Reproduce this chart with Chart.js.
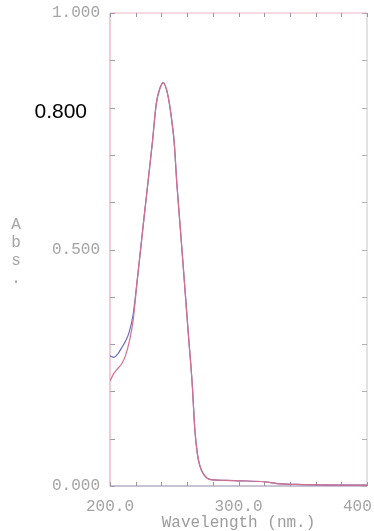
<!DOCTYPE html>
<html>
<head>
    <title>Abs spectrum</title>
    <style>
        body { margin: 0; background: #fff; }
        canvas { display: block; }
    </style>
</head>
<body>
    <canvas id="spectrum" width="374" height="531"></canvas>

    <script src="https://cdn.jsdelivr.net/npm/chart.js@4.4.1/dist/chart.umd.min.js"></script>
    <script>
        // values
        const wavelengths = [200, 203, 206, 209, 212, 215, 218, 221, 224, 227, 230, 233, 236, 239, 241.5,
                             244, 246, 248, 250, 252, 255, 258, 261, 264, 266, 268, 270, 273, 276, 280,
                             290, 300, 320, 330, 350, 380, 400];
        const absUpper = [0.275, 0.272, 0.279, 0.292, 0.306, 0.326, 0.362, 0.430, 0.505, 0.580, 0.653, 0.727, 0.808, 0.842, 0.853,
                          0.838, 0.812, 0.774, 0.725, 0.640, 0.535, 0.428, 0.320, 0.215, 0.120, 0.068, 0.042, 0.024, 0.016, 0.013,
                          0.012, 0.011, 0.009, 0.005, 0.003, 0.002, 0.002];
        const absLower = [0.222, 0.238, 0.248, 0.258, 0.275, 0.305, 0.350, 0.430, 0.505, 0.580, 0.653, 0.727, 0.808, 0.842, 0.853,
                          0.838, 0.812, 0.774, 0.725, 0.640, 0.535, 0.428, 0.320, 0.215, 0.120, 0.068, 0.042, 0.024, 0.016, 0.013,
                          0.012, 0.011, 0.009, 0.005, 0.003, 0.002, 0.002];
        const xLabelled = [200, 300, 400];
        const yLabelled = [0, 0.5, 1.0];
        const yMarked = 0.8;   // written over the scan by hand, in black

        const mono = "'Liberation Mono', 'DejaVu Sans Mono', monospace";
        const grey = '#a4a4a4';

        function toPoints(ys) {
            return wavelengths.map((x, i) => ({ x: x, y: ys[i] }));
        }

        // frame with inward ticks, different colour on each side like the scan
        const frame = {
            id: 'frame',
            beforeDatasetsDraw(chart) {
                const ctx = chart.ctx;
                const a = chart.chartArea;
                const xs = chart.scales.x, ys = chart.scales.y;
                ctx.save();
                ctx.lineWidth = 1;

                function seg(x1, y1, x2, y2, col) {
                    ctx.strokeStyle = col;
                    ctx.beginPath();
                    ctx.moveTo(x1, y1);
                    ctx.lineTo(x2, y2);
                    ctx.stroke();
                }
                seg(a.left, a.top, a.right, a.top, '#efb4c4');
                seg(a.right, a.top, a.right, a.bottom, '#c8c4c8');
                seg(a.left, a.top, a.left, a.bottom, '#e596ae');
                seg(a.left, a.bottom, a.right, a.bottom, '#9288a4');

                xs.ticks.forEach(t => {
                    const px = Math.round(xs.getPixelForValue(t.value)) + 0.5;
                    seg(px, a.bottom, px, a.bottom - 4, '#9a94a4');
                    seg(px, a.top, px, a.top + 4, '#9a94a4');
                });
                ys.ticks.forEach(t => {
                    const py = Math.round(ys.getPixelForValue(t.value)) + 0.5;
                    seg(a.left, py, a.left + 5, py, '#a49cae');
                    seg(a.right, py, a.right - 5, py, '#b4b0b8');
                });
                ctx.restore();
            },
            afterDraw(chart) {
                const ctx = chart.ctx;
                const a = chart.chartArea;
                const ys = chart.scales.y;
                ctx.save();
                // "A b s ." stacked y title
                ctx.font = '16px ' + mono;
                ctx.fillStyle = grey;
                ctx.textAlign = 'center';
                ctx.textBaseline = 'alphabetic';
                const mid = (a.top + a.bottom) / 2;
                ['A', 'b', 's', '.'].forEach((c, i) => {
                    ctx.fillText(c, 16, mid - 21 + i * 18);
                });
                // the black 0.800
                ctx.font = "21px 'Liberation Sans', Arial, sans-serif";
                ctx.fillStyle = '#000';
                ctx.textAlign = 'right';
                ctx.textBaseline = 'middle';
                ctx.fillText(yMarked.toFixed(3), 87, ys.getPixelForValue(yMarked) + 5);
                ctx.restore();
            }
        };

        const context = document.getElementById('spectrum').getContext('2d');

        const spectrum = new Chart(context, {
            type: 'line',
            data: {
                datasets: [
                    {
                        label: 'lower',
                        data: toPoints(absLower),
                        borderColor: '#d4708e',
                        borderWidth: 1.2,
                        pointRadius: 0,
                        cubicInterpolationMode: 'monotone'
                    },
                    {
                        label: 'upper',
                        data: toPoints(absUpper),
                        borderColor: '#6e68c0',
                        borderWidth: 1.2,
                        pointRadius: 0,
                        cubicInterpolationMode: 'monotone'
                    }
                ]
            },
            options: {
                responsive: false,
                animation: false,
                layout: {
                    autoPadding: false,
                    padding: { top: 13, right: 7, left: 0, bottom: 0 }
                },
                plugins: {
                    legend: { display: false },
                    tooltip: { enabled: false }
                },
                scales: {
                    x: {
                        type: 'linear',
                        min: 200,
                        max: 400,
                        grid: { display: false },
                        border: { display: false },
                        ticks: {
                            stepSize: 20,
                            autoSkip: false,
                            maxRotation: 0,
                            padding: 3,
                            color: grey,
                            font: { family: mono, size: 16 },
                            callback: v => xLabelled.includes(v) ? v.toFixed(1) : ''
                        },
                        title: {
                            display: true,
                            text: 'Wavelength (nm.)',
                            color: '#9c9c9c',
                            font: { family: mono, size: 16 },
                            padding: { top: 0, bottom: -1 }
                        },
                        afterFit: s => {
                            s.height = 45;
                            s.paddingLeft = 0;
                            s.paddingRight = 0;
                        }
                    },
                    y: {
                        min: 0,
                        max: 1,
                        grid: { display: false },
                        border: { display: false },
                        ticks: {
                            stepSize: 0.1,
                            autoSkip: false,
                            padding: 2,
                            color: grey,
                            font: { family: mono, size: 16 },
                            callback: v => yLabelled.some(t => Math.abs(t - v) < 1e-6) ? v.toFixed(3) : ''
                        },
                        afterFit: s => {
                            s.width = 110;
                            s.paddingTop = 0;
                            s.paddingBottom = 0;
                        }
                    }
                }
            },
            plugins: [frame]
        });
    </script>
</body>
</html>
